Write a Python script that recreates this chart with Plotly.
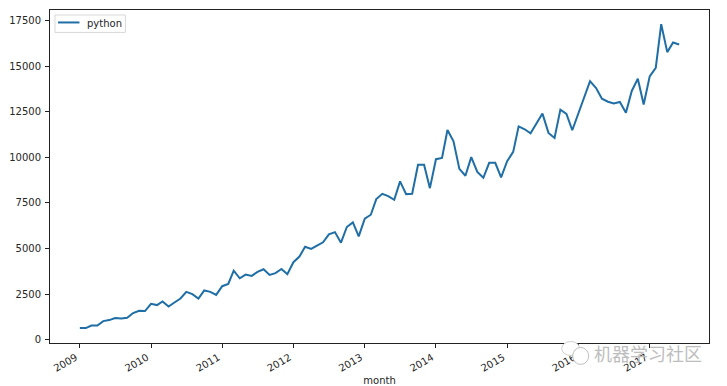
import pandas as pd
import plotly.graph_objs as go

# monthly values
months = pd.date_range('2009-01-01', periods=102, freq='MS')
python = [
    640, 640, 780, 780, 1020, 1075, 1190, 1170, 1200, 1460, 1590, 1570,
    1970, 1900, 2100, 1820, 2040, 2260, 2625, 2500, 2260, 2700, 2625, 2460,
    2935, 3060, 3790, 3370, 3570, 3500, 3720, 3865, 3555, 3650, 3880, 3590,
    4250, 4560, 5100, 4980, 5160, 5340, 5780, 5900, 5320, 6180, 6435, 5670,
    6635, 6855, 7710, 8000, 7875, 7675, 8680, 7985, 8000, 9590, 9590, 8310,
    9900, 9970, 11500, 10880, 9370, 8990, 10010, 9205, 8880, 9700, 9700, 8900,
    9790, 10300, 11700, 11540, 11320, 11890, 12400, 11340, 11065, 12615, 12380, 11485,
    12400, 13300, 14180, 13800, 13220, 13050, 12960, 13035, 12450, 13640, 14310, 12900,
    14440, 14910, 17300, 15770, 16300, 16190,
]
x_ticks = ['2009-01-01', '2010-01-01', '2011-01-01', '2012-01-01', '2013-01-01',
           '2014-01-01', '2015-01-01', '2016-01-01', '2017-01-01']
x_labels = ['2009', '2010', '2011', '2012', '2013', '2014', '2015', '2016', '2017']
y_ticks = [0, 2500, 5000, 7500, 10000, 12500, 15000, 17500]

TEXT = '#262626'
FRAME = '#222222'
LINE = '#1f6ea6'

W, H = 727, 386
L, R, T, B = 49.5, 17.5, 9.5, 42.5


def px(x):
    return (x - L) / (W - L - R)


def py(y):
    return (H - B - y) / (H - T - B)


fig = go.Figure()
fig.add_trace(go.Scatter(
    x=months,
    y=python,
    mode='lines',
    name='python',
    line=dict(color=LINE, width=2),
    showlegend=False,
))

fig.update_layout(
    width=W,
    height=H,
    margin=dict(l=L, r=R, t=T, b=B, autoexpand=False),
    paper_bgcolor='white',
    plot_bgcolor='white',
    font=dict(family='DejaVu Sans', size=10, color=TEXT),
    xaxis=dict(
        automargin=False,
        range=['2008-08-01', '2017-11-01'],
        tickmode='array', tickvals=x_ticks, ticktext=x_labels,
        tickangle=-30, ticks='outside', ticklen=4, tickcolor=FRAME,
        ticklabelshift=-4,
        showgrid=False, zeroline=False,
        showline=True, linecolor=FRAME, linewidth=1, mirror=True,
        title=dict(text='month', font=dict(size=10)),
    ),
    yaxis=dict(
        automargin=False,
        range=[-180, 18080],
        tickmode='array', tickvals=y_ticks,
        tickformat='d', ticks='outside', ticklen=4, tickcolor=FRAME,
        ticklabelstandoff=2,
        showgrid=False, zeroline=False,
        showline=True, linecolor=FRAME, linewidth=1, mirror=True,
    ),
)

# legend box, drawn by hand so it can be as small as the original
fig.add_shape(type='rect', xref='paper', yref='paper',
              x0=px(54.5), x1=px(125), y0=py(14.5), y1=py(32),
              line=dict(color='#d8d8d8', width=1), fillcolor='white')
fig.add_shape(type='line', xref='paper', yref='paper',
              x0=px(57.5), x1=px(79), y0=py(22), y1=py(22),
              line=dict(color=LINE, width=2))
fig.add_annotation(xref='paper', yref='paper', x=px(85), y=py(23),
                   xanchor='left', yanchor='middle', text='python',
                   showarrow=False, font=dict(size=10, color=TEXT))

# watermark over the bottom right corner
fig.add_shape(type='circle', xref='paper', yref='paper',
              x0=px(562), x1=px(580), y0=py(342), y1=py(356),
              line=dict(color='#d0d0d0', width=1), fillcolor='white')
fig.add_shape(type='circle', xref='paper', yref='paper',
              x0=px(573), x1=px(589), y0=py(348), y1=py(365),
              line=dict(color='#c0c0c0', width=1), fillcolor='white')
fig.add_annotation(
    xref='paper', yref='paper', x=px(704), y=py(354), xanchor='right', yanchor='middle',
    text='机器学习社区', showarrow=False,
    font=dict(family='Noto Sans CJK SC', size=18, color='#bdbdbd'),
)

fig.write_html('out.html', config={'displayModeBar': False},
               post_script='document.body.style.margin = 0;')
